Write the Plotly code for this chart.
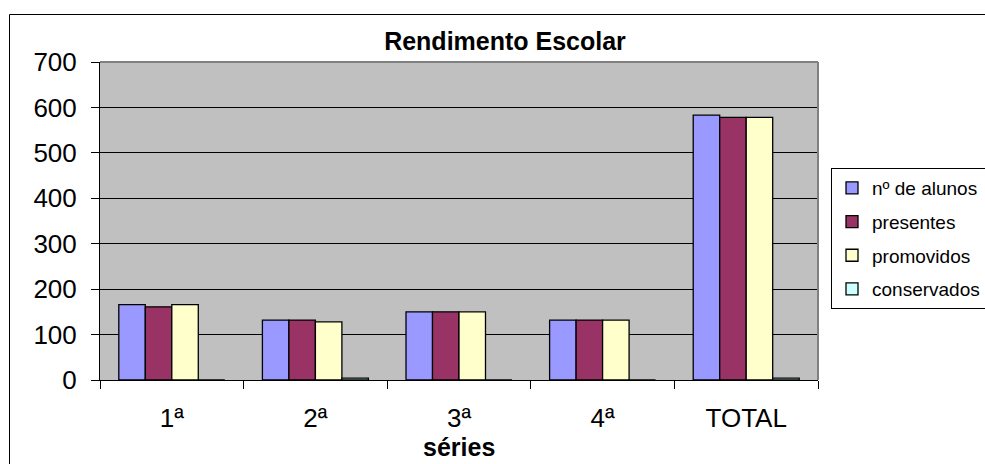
import plotly.graph_objects as go

categories = ["1ª", "2ª", "3ª", "4ª", "TOTAL"]
series_names = ["nº de alunos", "presentes", "promovidos", "conservados"]
n_alunos = [166, 132, 150, 132, 583]
presentes = [161, 132, 150, 132, 578]
promovidos = [166, 128, 150, 132, 578]
conservados = [0, 4, 0, 0, 4]
colors = ["#9999FF", "#993366", "#FFFFCC", "#CCFFFF"]
y_ticks = [0, 100, 200, 300, 400, 500, 600, 700]

W, H = 985, 464
L, R, T, B = 100, 818, 62, 380

def px_x(p):
    return (p - L) / (R - L)

def px_y(p):
    return (B - p) / (B - T)

fig = go.Figure()
for i, (name, vals) in enumerate(zip(series_names, [n_alunos, presentes, promovidos, conservados])):
    fig.add_trace(go.Bar(
        x=categories, y=vals, name=name, legendgroup=f"g{i}",
        marker=dict(color=colors[i], line=dict(color="black", width=1.3)),
    ))

font_family = "Liberation Sans, Arial, sans-serif"

fig.update_layout(
    width=W, height=H,
    margin=dict(l=L, r=W - R, t=T, b=H - B, autoexpand=False),
    paper_bgcolor="white",
    plot_bgcolor="#C0C0C0",
    barmode="group",
    bargap=0.262,
    bargroupgap=0,
    font=dict(family=font_family, color="black"),
    title=dict(text="<b>Rendimento Escolar</b>", x=px_x(505), xref="paper", xanchor="center",
               y=1 - 41 / H, yref="container", yanchor="middle",
               font=dict(size=25, family=font_family, color="black")),
    showlegend=True,
    legend=dict(
        x=px_x(831), y=px_y(168), xanchor="left", yanchor="top",
        bordercolor="black", borderwidth=1, bgcolor="white",
        font=dict(size=19, family=font_family, color="black"),
        tracegroupgap=6, itemclick=False,
    ),
    xaxis=dict(
        type="category", tickson="boundaries", ticks="outside", ticklen=8, tickcolor="black",
        showline=True, linecolor="black", linewidth=1,
        showgrid=False, tickfont=dict(size=26), ticklabelstandoff=15,
        fixedrange=True,
    ),
    yaxis=dict(
        range=[0, 700], tickvals=y_ticks, ticks="outside", ticklen=8, tickcolor="black",
        showline=True, linecolor="black", linewidth=1,
        showgrid=True, gridcolor="black", gridwidth=1,
        tickfont=dict(size=26), ticklabelstandoff=9, zeroline=False,
        fixedrange=True,
    ),
    shapes=[
        # outer chart frame
        dict(type="rect", xref="paper", yref="paper", x0=px_x(9.5), y0=px_y(474), x1=px_x(995), y1=px_y(14.5),
             line=dict(color="black", width=1), fillcolor="rgba(0,0,0,0)", layer="below"),
        # top and right plot-area border
        dict(type="line", xref="paper", yref="paper", x0=0, y0=1, x1=1, y1=1,
             line=dict(color="#808080", width=2), layer="above"),
        dict(type="line", xref="paper", yref="paper", x0=1, y0=0, x1=1, y1=1,
             line=dict(color="#808080", width=2), layer="above"),
    ],
    annotations=[
        dict(text="<b>séries</b>", xref="paper", yref="paper", x=0.5, y=px_y(447),
             xanchor="center", yanchor="middle", showarrow=False,
             font=dict(size=25, family=font_family, color="black")),
    ],
)

fig.write_html("out.html")
